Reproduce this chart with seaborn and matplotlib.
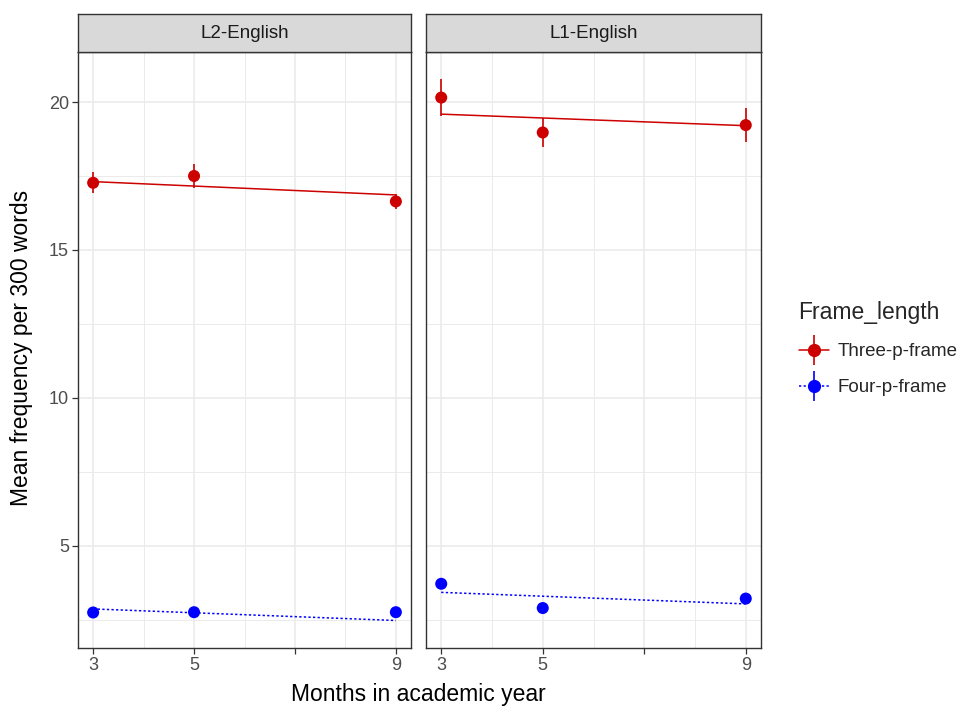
import numpy as np
import pandas as pd
import seaborn as sns
import matplotlib
matplotlib.use("Agg")
import matplotlib.pyplot as plt
from matplotlib.lines import Line2D
from matplotlib.legend_handler import HandlerTuple

# ---- data ----
groups = ["L2-English", "L1-English"]
frames = ["Three-p-frame", "Four-p-frame"]
months = [3, 5, 9]

# observed means and standard errors per group / frame type
three_mean = {"L2-English": [17.27, 17.50, 16.64], "L1-English": [20.15, 18.97, 19.22]}
three_se = {"L2-English": [0.36, 0.41, 0.24], "L1-English": [0.62, 0.49, 0.58]}
four_mean = {"L2-English": [2.75, 2.76, 2.76], "L1-English": [3.72, 2.90, 3.22]}
four_se = {"L2-English": [0.10, 0.10, 0.10], "L1-English": [0.12, 0.12, 0.12]}

# model fit values at the first and last month
fit_months = [3, 9]
three_fit = {"L2-English": [17.31, 16.86], "L1-English": [19.59, 19.20]}
four_fit = {"L2-English": [2.87, 2.48], "L1-English": [3.43, 3.04]}

x_ticks = [3, 5, 7, 9]
x_tick_labels = ["3", "5", "", "9"]
y_ticks = [5, 10, 15, 20]

rows, fit_rows = [], []
for g in groups:
    for f, m, s, fit in [(frames[0], three_mean, three_se, three_fit),
                         (frames[1], four_mean, four_se, four_fit)]:
        for x, y, e in zip(months, m[g], s[g]):
            rows.append(dict(group=g, frame=f, month=x, mean=y, se=e))
        for x, y in zip(fit_months, fit[g]):
            fit_rows.append(dict(group=g, frame=f, month=x, fit=y))
df = pd.DataFrame(rows)
fit_df = pd.DataFrame(fit_rows)

palette = {"Three-p-frame": "#CD0000", "Four-p-frame": "#0000FF"}
styles = {"Three-p-frame": "-", "Four-p-frame": (0, (1.5, 1.5))}

# ---- figure ----
sns.set_theme(style="white")
plt.rcParams["font.family"] = ["Liberation Sans", "DejaVu Sans"]

W, H = 963, 709
fig = plt.figure(figsize=(W / 100, H / 100), dpi=100)

panel_lr = [(78, 411), (426, 761)]
top_px, bot_px = 52, 648
strip_top = 14
border = "#333333"

for i, (g, (l, r)) in enumerate(zip(groups, panel_lr)):
    ax = fig.add_axes([l / W, 1 - bot_px / H, (r - l) / W, (bot_px - top_px) / H])
    ax.set_xlim(2.7, 9.3)
    ax.set_ylim(1.55, 21.69)
    ax.set_xticks(x_ticks)
    ax.set_xticklabels(x_tick_labels)
    ax.set_xticks([4, 6, 8], minor=True)
    ax.set_yticks(y_ticks)
    ax.set_yticks([2.5, 7.5, 12.5, 17.5], minor=True)
    ax.grid(which="major", color="#EBEBEB", lw=1.2)
    ax.grid(which="minor", color="#EBEBEB", lw=0.7)
    ax.set_axisbelow(True)
    for sp in ax.spines.values():
        sp.set_color(border)
        sp.set_linewidth(1.0)
    ax.tick_params(axis="both", which="major", bottom=True, left=True, length=4,
                   width=0.9, color=border, labelsize=13, labelcolor="#4D4D4D", pad=2.5)
    ax.tick_params(axis="both", which="minor", bottom=False, left=False, length=0)
    if i > 0:
        ax.tick_params(axis="y", which="major", left=False, labelleft=False)

    sub = df[df.group == g]
    sub_fit = fit_df[fit_df.group == g]
    for f in frames:
        d = sub[sub.frame == f]
        ax.errorbar(d["month"], d["mean"], yerr=d["se"], fmt="none",
                    ecolor=palette[f], elinewidth=1.2, capsize=0, zorder=3)
        df_f = sub_fit[sub_fit.frame == f]
        ax.plot(df_f["month"], df_f["fit"], color=palette[f], lw=1.1,
                linestyle=styles[f], zorder=2)
    sns.scatterplot(data=sub, x="month", y="mean", hue="frame", palette=palette,
                    s=75, edgecolor="none", legend=False, ax=ax, zorder=4)
    ax.set_xlabel("")
    ax.set_ylabel("")

    # facet strip
    sax = fig.add_axes([l / W, 1 - top_px / H, (r - l) / W, (top_px - strip_top) / H])
    sax.set_facecolor("#D9D9D9")
    sax.set_xticks([])
    sax.set_yticks([])
    for sp in sax.spines.values():
        sp.set_color(border)
        sp.set_linewidth(1.0)
    sax.text(0.5, 0.5, g, ha="center", va="center", fontsize=13.5, color="#1A1A1A",
             transform=sax.transAxes)

fig.text(418 / W, 1 - 695 / H, "Months in academic year", ha="center", va="center",
         fontsize=16.5, color="black")
fig.text(22 / W, 1 - 348 / H, "Mean frequency per 300 words", ha="center", va="center",
         rotation=90, fontsize=16.5, color="black")

# legend
handles = []
for f in frames:
    c = palette[f]
    handles.append((
        Line2D([], [], color=c, lw=1.1, linestyle=styles[f]),
        Line2D([], [], color=c, marker="|", markersize=21, markeredgewidth=1.2, ls="none"),
        Line2D([], [], color=c, marker="o", markersize=8.5, ls="none"),
    ))
leg = fig.legend(handles, frames, handler_map={tuple: HandlerTuple(ndivide=1, pad=0)},
                 loc="upper left", bbox_to_anchor=(791 / W, 1 - 294 / H),
                 title="Frame_length", frameon=False, fontsize=13.5, title_fontsize=16.5,
                 handlelength=1.65, handletextpad=0.45, labelspacing=1.0,
                 borderaxespad=0, borderpad=0.4)
leg._legend_box.align = "left"

fig.savefig("out.png", dpi=100)
